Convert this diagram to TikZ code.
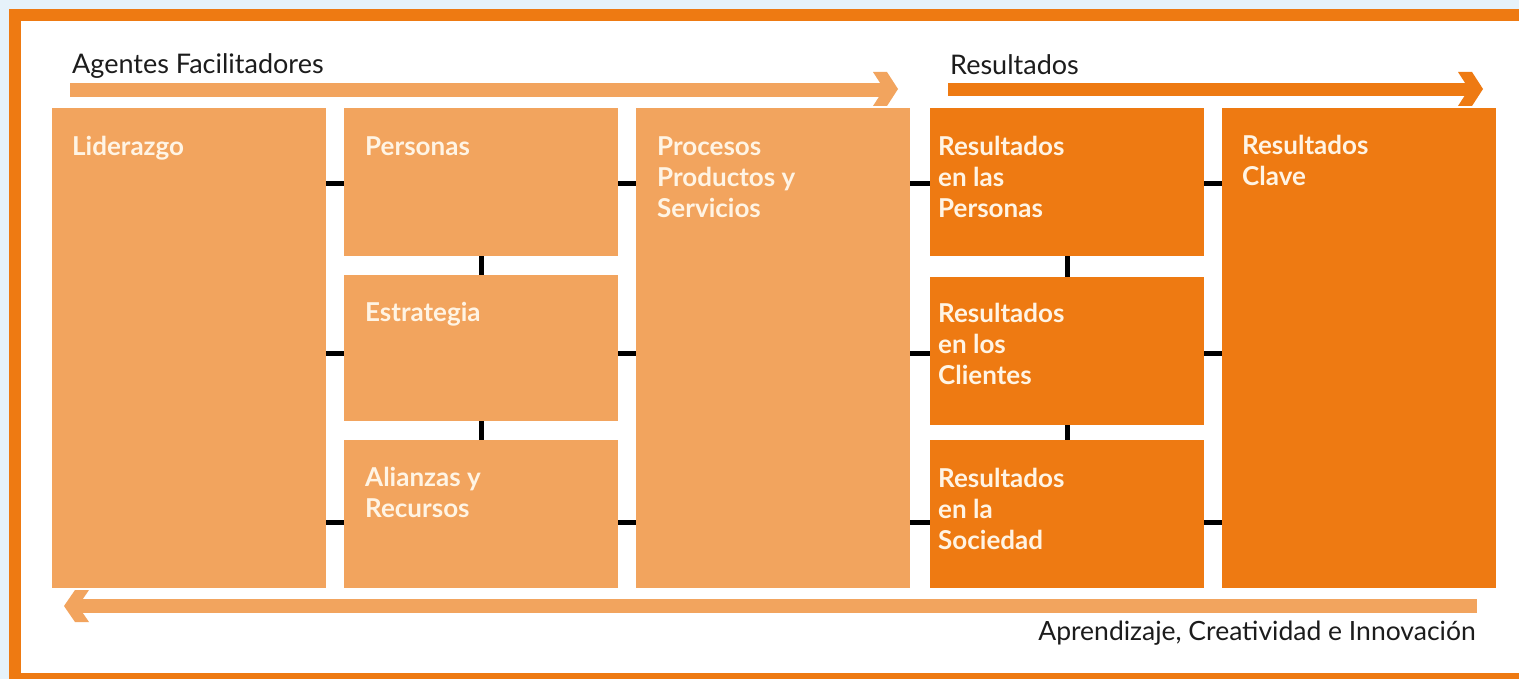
\documentclass[tikz,border=0pt]{standalone}
\usepackage{fontspec}
\setmainfont{Lato}
\usetikzlibrary{calc}
\definecolor{darkor}{RGB}{238,122,18}
\definecolor{lightor}{RGB}{242,164,94}
\definecolor{cream}{RGB}{255,244,228}
\definecolor{ink}{RGB}{28,28,28}
\definecolor{bgblue}{RGB}{230,242,250}
\begin{document}
\begin{tikzpicture}[x=1pt,y=-1pt,
  lbox/.style={fill=lightor, draw=none, inner sep=0pt, anchor=north west, minimum width=274pt},
  dbox/.style={fill=darkor, draw=none, inner sep=0pt, anchor=north west, minimum width=274pt},
  conn/.style={draw=black, line width=5pt},
  blabel/.style={anchor=north west, inner sep=0pt, align=left, text=cream, font=\fontsize{26}{31}\selectfont\bfseries},
  hlabel/.style={anchor=base west, inner sep=0pt, text=ink, font=\fontsize{27}{32}\selectfont}]
\useasboundingbox (0,0) rectangle (1519,679);
% background and frame
\fill[bgblue] (0,0) rectangle (1519,679);
\fill[darkor] (9,9) rectangle (1519,679);
\fill[white] (21,21) rectangle (1519,673);
% boxes
\node[lbox, minimum height=480pt] (lid) at (52,108) {};
\node[lbox, minimum height=148pt] (pers) at (344,108) {};
\node[lbox, minimum height=146pt] (estr) at (344,275) {};
\node[lbox, minimum height=148pt] (alz) at (344,440) {};
\node[lbox, minimum height=480pt] (proc) at (636,108) {};
\node[dbox, minimum height=148pt] (rpers) at (930,108) {};
\node[dbox, minimum height=148pt] (rcli) at (930,277) {};
\node[dbox, minimum height=148pt] (rsoc) at (930,440) {};
\node[dbox, minimum height=480pt] (rclave) at (1222,108) {};
% box labels
\node[blabel] (lidT) at ($(lid.north west)+(20,23)$) {\rule{0pt}{24pt}Liderazgo};
\node[blabel] (persT) at ($(pers.north west)+(21,23)$) {\rule{0pt}{24pt}Personas};
\node[blabel] (estrT) at ($(estr.north west)+(21,22)$) {\rule{0pt}{24pt}Estrategia};
\node[blabel] (alzT) at ($(alz.north west)+(21,22)$) {\rule{0pt}{24pt}Alianzas y\\Recursos};
\node[blabel] (procT) at ($(proc.north west)+(21,23)$) {\rule{0pt}{24pt}Procesos\\Productos y\\Servicios};
\node[blabel] (rpersT) at ($(rpers.north west)+(8,23)$) {\rule{0pt}{24pt}Resultados\\en las\\Personas};
\node[blabel] (rcliT) at ($(rcli.north west)+(8,21)$) {\rule{0pt}{24pt}Resultados\\en los\\Clientes};
\node[blabel] (rsocT) at ($(rsoc.north west)+(8,23)$) {\rule{0pt}{24pt}Resultados\\en la\\Sociedad};
\node[blabel] (rclaveT) at ($(rclave.north west)+(20,22)$) {\rule{0pt}{24pt}Resultados\\Clave};
% header labels
\node[hlabel] (agT) at (72,74) {Agentes Facilitadores};
\node[hlabel] (resT) at (950,75) {Resultados};
\node[anchor=base east, inner sep=0pt, text=ink, font=\fontsize{26.5}{31}\selectfont] (aprT) at (1476,640) {Aprendizaje, Creatividad e Innovación};
% arrows
\fill[lightor] (70,83) rectangle (884,97);
\fill[lightor] (873,72) -- (887,72) -- (898,89) -- (887,106) -- (873,106) -- (884,89) -- cycle;
\fill[darkor] (948,83) rectangle (1469,96);
\fill[darkor] (1458,72) -- (1472,72) -- (1483,89) -- (1472,106) -- (1458,106) -- (1469,89) -- cycle;
\fill[lightor] (78,599) rectangle (1477,613);
\fill[lightor] (89,590) -- (75,590) -- (64,606) -- (75,622) -- (89,622) -- (78,606) -- cycle;
% connectors
\coordinate (r1) at (0,184);
\coordinate (r2) at (0,353);
\coordinate (r3) at (0,522);
\draw[conn] (lid.east |- r1) -- (pers.west |- r1);
\draw[conn] (pers.east |- r1) -- (proc.west |- r1);
\draw[conn] (proc.east |- r1) -- (rpers.west |- r1);
\draw[conn] (rpers.east |- r1) -- (rclave.west |- r1);
\draw[conn] (lid.east |- r2) -- (estr.west |- r2);
\draw[conn] (estr.east |- r2) -- (proc.west |- r2);
\draw[conn] (proc.east |- r2) -- (rcli.west |- r2);
\draw[conn] (rcli.east |- r2) -- (rclave.west |- r2);
\draw[conn] (lid.east |- r3) -- (alz.west |- r3);
\draw[conn] (alz.east |- r3) -- (proc.west |- r3);
\draw[conn] (proc.east |- r3) -- (rsoc.west |- r3);
\draw[conn] (rsoc.east |- r3) -- (rclave.west |- r3);
\draw[conn] (pers.south) -- (estr.north);
\draw[conn] (estr.south) -- (alz.north);
\draw[conn] (rpers.south) -- (rcli.north);
\draw[conn] (rcli.south) -- (rsoc.north);
\end{tikzpicture}
\end{document}
